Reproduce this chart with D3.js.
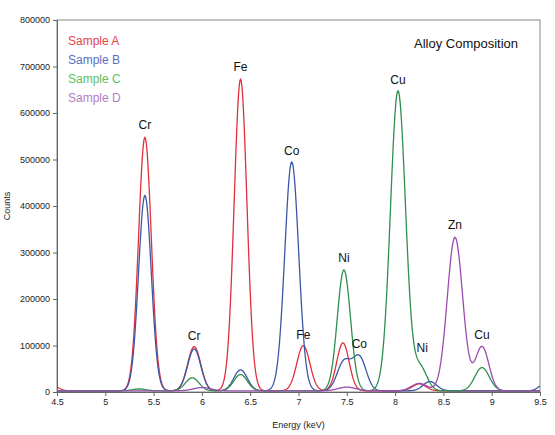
<!DOCTYPE html>
<html><head><meta charset="utf-8">
<script src="https://cdn.jsdelivr.net/npm/d3@7"></script>
<style>body{margin:0;background:#fff;font-family:Arial,"Liberation Sans",sans-serif}</style>
</head><body><svg width="555" height="435"></svg>
<script>
// peak parameters: [centre keV, height counts, sigma keV]
const seriesNames = ["Sample A","Sample B","Sample C","Sample D"];
const seriesColors = ["#e0303c","#3b58a6","#2e8f4e","#9a4cb0"];
const legendColors = ["#e8424b","#5a6fc0","#5ec060","#b07cc8"];
const peaksA = [[5.41,545000,0.066],[5.92,95000,0.068],[6.40,670000,0.066],[7.05,97000,0.068],[7.46,103000,0.064],[8.25,15000,0.07],[4.45,12000,0.06]];
const peaksB = [[5.41,420000,0.066],[5.92,90000,0.068],[6.40,45000,0.07],[6.93,492000,0.072],[7.47,62000,0.07],[7.63,72000,0.07],[8.36,20000,0.07],[9.55,15000,0.06]];
const peaksC = [[5.35,4000,0.07],[5.90,28000,0.07],[6.40,35000,0.07],[7.47,260000,0.068],[8.03,645000,0.078],[8.26,50000,0.07],[8.90,50000,0.075]];
const peaksD = [[6.00,7000,0.09],[7.50,8000,0.09],[8.25,16000,0.08],[8.62,330000,0.08],[8.90,95000,0.07]];
const allPeaks = [peaksA,peaksB,peaksC,peaksD];
const xTicks = [4.5,5,5.5,6,6.5,7,7.5,8,8.5,9,9.5];
const yTicks = [0,100000,200000,300000,400000,500000,600000,700000,800000];
const peakLabels = [["Cr",5.41,565000],["Cr",5.92,112000],["Fe",6.40,690000],["Fe",7.05,113000],["Co",6.93,510000],["Ni",7.47,280000],["Co",7.63,95000],["Cu",8.03,663000],["Ni",8.28,85000],["Zn",8.62,350000],["Cu",8.90,115000]];

const svg = d3.select("svg");
const m = {left:57,right:540,top:20,bottom:392};
const x = d3.scaleLinear().domain([4.5,9.5]).range([m.left,m.right]);
const y = d3.scaleLinear().domain([0,800000]).range([m.bottom,m.top]);

svg.append("rect").attr("x",m.left).attr("y",m.top).attr("width",m.right-m.left).attr("height",m.bottom-m.top)
	.attr("fill","none").attr("stroke","#888");

const xa = svg.append("g").attr("transform",`translate(0,${m.bottom})`)
	.call(d3.axisBottom(x).tickValues(xTicks).tickSize(4).tickFormat(d3.format("")));
const ya = svg.append("g").attr("transform",`translate(${m.left},0)`)
	.call(d3.axisLeft(y).tickValues(yTicks).tickSize(4).tickFormat(d3.format("d")));
[xa,ya].forEach(a=>{
	a.selectAll("text").attr("font-size",9).attr("fill","#222");
	a.selectAll("line,path").attr("stroke","#666");
});

// sample spectra
const es = d3.range(4.5,9.5001,0.005);
const line = d3.line().x(d=>x(d[0])).y(d=>y(d[1]));
svg.append("clipPath").attr("id","c").append("rect")
	.attr("x",m.left).attr("y",m.top).attr("width",m.right-m.left).attr("height",m.bottom-m.top);
allPeaks.forEach((pk,i)=>{
	const pts = es.map(e=>[e, 2500 + d3.sum(pk,p=>p[1]*Math.exp(-((e-p[0])**2)/(2*p[2]*p[2])))]);
	svg.append("path").datum(pts).attr("d",line).attr("fill","none")
		.attr("stroke",seriesColors[i]).attr("stroke-width",1.3).attr("clip-path","url(#c)");
});

peakLabels.forEach(l=>{
	svg.append("text").attr("x",x(l[1])).attr("y",y(l[2])).attr("text-anchor","middle")
		.attr("font-size",12).attr("fill","#111").text(l[0]);
});

seriesNames.forEach((n,i)=>{
	svg.append("text").attr("x",68).attr("y",45+i*19).attr("font-size",12)
		.attr("fill",legendColors[i]).text(n);
});

svg.append("text").attr("x",466).attr("y",48).attr("text-anchor","middle").attr("font-size",13)
	.attr("fill","#111").text("Alloy Composition");
svg.append("text").attr("x",m.left+(m.right-m.left)/2).attr("y",428).attr("text-anchor","middle")
	.attr("font-size",9).attr("fill","#222").text("Energy (keV)");
svg.append("text").attr("transform","translate(10,206) rotate(-90)").attr("text-anchor","middle")
	.attr("font-size",9).attr("fill","#222").text("Counts");
</script></body></html>
